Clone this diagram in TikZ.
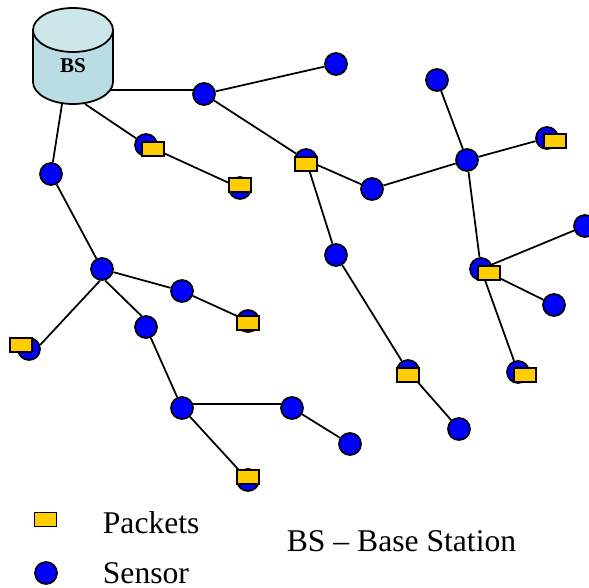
\documentclass[tikz,border=0pt]{standalone}
\usepackage{fontspec}
\setmainfont{Liberation Serif}
\definecolor{packetfill}{HTML}{FFCC00}
\definecolor{sensorfill}{HTML}{0000FF}
\definecolor{bsbody}{HTML}{B9DDE2}
\definecolor{bstop}{HTML}{CCE6E9}

\begin{document}
\begin{tikzpicture}[x=0.02cm,y=-0.02cm,line width=1pt,
    sensor/.style={circle,draw=black,fill=sensorfill,inner sep=0pt,minimum size=0.44cm},
    packet/.style={rectangle,draw=black,fill=packetfill,inner sep=0pt,minimum width=0.44cm,minimum height=0.28cm},
    legend/.style={anchor=base west,font=\fontsize{18}{20}\selectfont,inner sep=0pt}]
    \useasboundingbox (0,0) rectangle (589,588);

    % base station
    \filldraw[fill=bsbody] (33,30) -- (33,82) arc (180:360:0.8cm and 0.44cm) -- (113,30) -- cycle;
    \filldraw[fill=bstop] (73,30) ellipse (0.8cm and 0.44cm);
    \node[font=\fontsize{12}{14}\selectfont\bfseries,inner sep=0pt] (BS) at (73,66) {BS};

    \coordinate (b1) at (62,104);
    \coordinate (b2) at (110,90);
    \coordinate (b3) at (85,104);

    \node[sensor] (s1) at (51,174) {};
    \node[sensor] (s2) at (204,94) {};
    \node[sensor] (s3) at (336,64) {};
    \node[sensor] (s4) at (146,145) {};
    \node[sensor] (s5) at (240,188) {};
    \node[sensor] (s6) at (306,160) {};
    \node[sensor] (s7) at (372,189) {};
    \node[sensor] (s8) at (437,80) {};
    \node[sensor] (s9) at (467,160) {};
    \node[sensor] (s10) at (547,138) {};
    \node[sensor] (s11) at (336,255) {};
    \node[sensor] (s12) at (408,371) {};
    \node[sensor] (s13) at (459,429) {};
    \node[sensor] (s14) at (481,269) {};
    \node[sensor] (s15) at (585,226) {};
    \node[sensor] (s16) at (554,305) {};
    \node[sensor] (s17) at (518,372) {};
    \node[sensor] (s18) at (102,269) {};
    \node[sensor] (s19) at (182,291) {};
    \node[sensor] (s20) at (248,321) {};
    \node[sensor] (s21) at (29,349) {};
    \node[sensor] (s22) at (146,327) {};
    \node[sensor] (s23) at (182,408) {};
    \node[sensor] (s24) at (292,408) {};
    \node[sensor] (s25) at (350,444) {};
    \node[sensor] (s26) at (248,480) {};

    \draw (b1) -- (s1);
    \draw (b2) -- (s2.160);
    \draw (b3) -- (s4);

    \foreach \a/\b in {s2/s3,s2/s6,s6/s7,s6/s11,s7/s9,s8/s9,s9/s10,s9/s14,s14/s15,s14/s16,s14/s17,
        s11/s12,s12/s13,s4/s5,s1/s18,s18/s19,s19/s20,s22/s23,s24/s25,s23/s26}
      \draw (\a) -- (\b);
    \draw (s18.-100) -- (s21.20);
    \draw (s18.-75) -- (s22.112);
    \draw (s23.20) -- (s24.160);

    \node[packet] (p1) at (153,149) {};
    \node[packet] (p2) at (240,185) {};
    \node[packet] (p3) at (306,164) {};
    \node[packet] (p4) at (555,141) {};
    \node[packet] (p5) at (408,375) {};
    \node[packet] (p6) at (489,273) {};
    \node[packet] (p7) at (525,375) {};
    \node[packet] (p8) at (248,323) {};
    \node[packet] (p9) at (21,345) {};
    \node[packet] (p10) at (248,477) {};

    % legend
    \node[packet] (lp) at (45.5,519.5) {};
    \node[sensor] (ls) at (46,573) {};
    \node[legend] (tp) at (102,533) {Packets};
    \node[legend] (ts) at (102,583) {Sensor};
    \node[legend] (tb) at (286,551) {BS -- Base Station};
\end{tikzpicture}
\end{document}
